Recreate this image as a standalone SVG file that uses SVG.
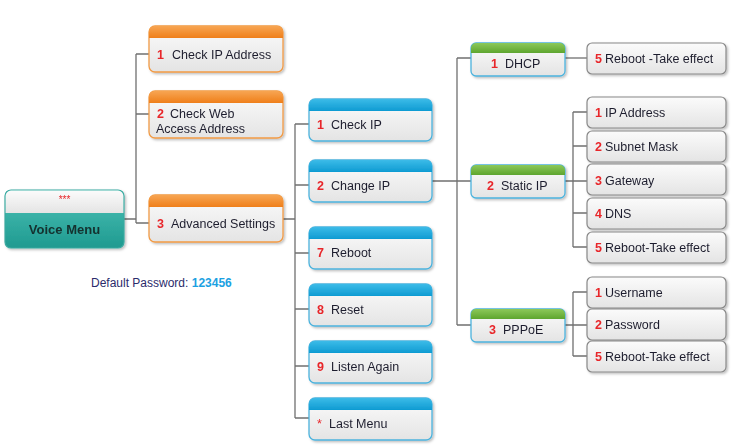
<svg xmlns="http://www.w3.org/2000/svg" width="740" height="445" viewBox="0 0 740 445">
<defs>
<linearGradient id="body" x1="0" y1="0" x2="0" y2="1"><stop offset="0" stop-color="#fbfbfb"/><stop offset="1" stop-color="#e4e4e4"/></linearGradient>
<linearGradient id="og" x1="0" y1="0" x2="0" y2="1"><stop offset="0" stop-color="#f7a552"/><stop offset="1" stop-color="#ef7f1a"/></linearGradient>
<linearGradient id="bg" x1="0" y1="0" x2="0" y2="1"><stop offset="0" stop-color="#3cbbe8"/><stop offset="1" stop-color="#0f9bd2"/></linearGradient>
<linearGradient id="gg" x1="0" y1="0" x2="0" y2="1"><stop offset="0" stop-color="#8cc85a"/><stop offset="1" stop-color="#5ea52e"/></linearGradient>
<linearGradient id="tg" x1="0" y1="0" x2="0" y2="1"><stop offset="0" stop-color="#4cc2b7"/><stop offset="1" stop-color="#1f9a90"/></linearGradient>
<filter id="sh" x="-10%" y="-10%" width="125%" height="130%"><feDropShadow dx="1.5" dy="1.5" stdDeviation="1" flood-color="#000" flood-opacity="0.25"/></filter>
</defs>
<style>
text{font-family:"Liberation Sans",Arial,sans-serif;font-size:12.5px;fill:#1e1e2e}
.n{fill:#e8262a;font-weight:bold}
.c{fill:none;stroke:#707070;stroke-width:1.3}
.ob{fill:url(#body);stroke:#f19a45;stroke-width:1.3}
.bb{fill:url(#body);stroke:#4cb3dd;stroke-width:1.3}
.gb{fill:url(#body);stroke:#888;stroke-width:1.2}
</style>
<rect width="740" height="445" fill="#fff"/>
<g id="connectors">
<path class="c" d="M124 219H136M136 54V223M136 54H149M136 114H149M136 223H149"/>
<path class="c" d="M283 219H295M295 124V418M295 124H309M295 185H309M295 253H309M295 309H309M295 366H309M295 418H309"/>
<path class="c" d="M432 181H457M457 58V325M457 58H471M457 181H471M457 325H471"/>
<path class="c" d="M565 58H587"/>
<path class="c" d="M565 181H587M573 112V247M573 112H587M573 146H587M573 213H587M573 247H587"/>
<path class="c" d="M565 325H587M573 292V356M573 292H587M573 356H587"/>
</g>
<g id="voice-menu" filter="url(#sh)">
<rect x="5" y="190" width="119" height="58" rx="6" fill="url(#tg)" stroke="#3aa9a0" stroke-width="1.2"/>
<path d="M11 190.6H118a5.4 5.4 0 0 1 5.4 5.4V213H5.6V196a5.4 5.4 0 0 1 5.4-5.4z" fill="url(#body)"/>
<text x="64.5" y="203" text-anchor="middle" class="n" style="font-size:10px;font-weight:normal">***</text>
<text x="64.5" y="234" text-anchor="middle" style="font-weight:bold;font-size:13px;fill:#13302e">Voice Menu</text>
</g>
<g id="check-ip-address" filter="url(#sh)">
<rect x="149" y="26" width="134" height="46" rx="6" class="ob"/>
<path d="M155 26H277a6 6 0 0 1 6 6V38H149V32a6 6 0 0 1 6-6z" fill="url(#og)"/>
<text y="59"><tspan x="157" class="n">1</tspan><tspan x="172">Check IP Address</tspan></text>
</g>
<g id="check-web" filter="url(#sh)">
<rect x="149" y="91" width="134" height="47" rx="6" class="ob"/>
<path d="M155 91H277a6 6 0 0 1 6 6V103H149V97a6 6 0 0 1 6-6z" fill="url(#og)"/>
<text y="118"><tspan x="157" class="n">2</tspan><tspan x="170">Check Web</tspan></text>
<text x="156" y="133">Access Address</text>
</g>
<g id="advanced-settings" filter="url(#sh)">
<rect x="149" y="195" width="134" height="47" rx="6" class="ob"/>
<path d="M155 195H277a6 6 0 0 1 6 6V207H149V201a6 6 0 0 1 6-6z" fill="url(#og)"/>
<text y="228"><tspan x="157" class="n">3</tspan><tspan x="171">Advanced Settings</tspan></text>
</g>
<text x="91" y="287" style="fill:#2b2b6b;font-size:12px">Default Password: <tspan style="fill:#1ba1e2;font-weight:bold">123456</tspan></text>
<g id="check-ip" filter="url(#sh)">
<rect x="309" y="99" width="123" height="42" rx="6" class="bb"/>
<path d="M315 99H426a6 6 0 0 1 6 6V111H309V105a6 6 0 0 1 6-6z" fill="url(#bg)"/>
<text y="129"><tspan x="317" class="n">1</tspan><tspan x="331">Check IP</tspan></text>
</g>
<g id="change-ip" filter="url(#sh)">
<rect x="309" y="160" width="123" height="42" rx="6" class="bb"/>
<path d="M315 160H426a6 6 0 0 1 6 6V172H309V166a6 6 0 0 1 6-6z" fill="url(#bg)"/>
<text y="190"><tspan x="317" class="n">2</tspan><tspan x="331">Change IP</tspan></text>
</g>
<g id="reboot" filter="url(#sh)">
<rect x="309" y="227" width="123" height="42" rx="6" class="bb"/>
<path d="M315 227H426a6 6 0 0 1 6 6V239H309V233a6 6 0 0 1 6-6z" fill="url(#bg)"/>
<text y="257"><tspan x="317" class="n">7</tspan><tspan x="331">Reboot</tspan></text>
</g>
<g id="reset" filter="url(#sh)">
<rect x="309" y="284" width="123" height="42" rx="6" class="bb"/>
<path d="M315 284H426a6 6 0 0 1 6 6V296H309V290a6 6 0 0 1 6-6z" fill="url(#bg)"/>
<text y="314"><tspan x="317" class="n">8</tspan><tspan x="331">Reset</tspan></text>
</g>
<g id="listen-again" filter="url(#sh)">
<rect x="309" y="341" width="123" height="42" rx="6" class="bb"/>
<path d="M315 341H426a6 6 0 0 1 6 6V353H309V347a6 6 0 0 1 6-6z" fill="url(#bg)"/>
<text y="371"><tspan x="317" class="n">9</tspan><tspan x="331">Listen Again</tspan></text>
</g>
<g id="last-menu" filter="url(#sh)">
<rect x="309" y="398" width="123" height="42" rx="6" class="bb"/>
<path d="M315 398H426a6 6 0 0 1 6 6V410H309V404a6 6 0 0 1 6-6z" fill="url(#bg)"/>
<text y="428"><tspan x="317" class="n" style="font-weight:normal">*</tspan><tspan x="329">Last Menu</tspan></text>
</g>
<g id="dhcp" filter="url(#sh)">
<rect x="471" y="43" width="94" height="33" rx="5" class="bb"/>
<path d="M476 43H560a5 5 0 0 1 5 5V53H471V48a5 5 0 0 1 5-5z" fill="url(#gg)"/>
<text y="68"><tspan x="491" class="n">1</tspan><tspan x="505">DHCP</tspan></text>
</g>
<g id="static-ip" filter="url(#sh)">
<rect x="471" y="165" width="94" height="33" rx="5" class="bb"/>
<path d="M476 165H560a5 5 0 0 1 5 5V175H471V170a5 5 0 0 1 5-5z" fill="url(#gg)"/>
<text y="190"><tspan x="487" class="n">2</tspan><tspan x="501">Static IP</tspan></text>
</g>
<g id="pppoe" filter="url(#sh)">
<rect x="471" y="309" width="94" height="33" rx="5" class="bb"/>
<path d="M476 309H560a5 5 0 0 1 5 5V319H471V314a5 5 0 0 1 5-5z" fill="url(#gg)"/>
<text y="334"><tspan x="489" class="n">3</tspan><tspan x="503">PPPoE</tspan></text>
</g>
<g id="dhcp-reboot" filter="url(#sh)"><rect x="587" y="43" width="139" height="31" rx="5" class="gb"/><text y="63"><tspan x="595" class="n">5</tspan><tspan x="605">Reboot -Take effect</tspan></text></g>
<g id="ip-address" filter="url(#sh)"><rect x="587" y="97" width="139" height="31" rx="5" class="gb"/><text y="117"><tspan x="595" class="n">1</tspan><tspan x="605">IP Address</tspan></text></g>
<g id="subnet-mask" filter="url(#sh)"><rect x="587" y="131" width="139" height="31" rx="5" class="gb"/><text y="151"><tspan x="595" class="n">2</tspan><tspan x="605">Subnet Mask</tspan></text></g>
<g id="gateway" filter="url(#sh)"><rect x="587" y="164" width="139" height="31" rx="5" class="gb"/><text y="185"><tspan x="595" class="n">3</tspan><tspan x="605">Gateway</tspan></text></g>
<g id="dns" filter="url(#sh)"><rect x="587" y="198" width="139" height="31" rx="5" class="gb"/><text y="218"><tspan x="595" class="n">4</tspan><tspan x="605">DNS</tspan></text></g>
<g id="static-reboot" filter="url(#sh)"><rect x="587" y="232" width="139" height="31" rx="5" class="gb"/><text y="252"><tspan x="595" class="n">5</tspan><tspan x="605">Reboot-Take effect</tspan></text></g>
<g id="username" filter="url(#sh)"><rect x="587" y="277" width="139" height="31" rx="5" class="gb"/><text y="297"><tspan x="595" class="n">1</tspan><tspan x="605">Username</tspan></text></g>
<g id="password" filter="url(#sh)"><rect x="587" y="309" width="139" height="31" rx="5" class="gb"/><text y="329"><tspan x="595" class="n">2</tspan><tspan x="605">Password</tspan></text></g>
<g id="pppoe-reboot" filter="url(#sh)"><rect x="587" y="341" width="139" height="31" rx="5" class="gb"/><text y="361"><tspan x="595" class="n">5</tspan><tspan x="605">Reboot-Take effect</tspan></text></g>
</svg>
